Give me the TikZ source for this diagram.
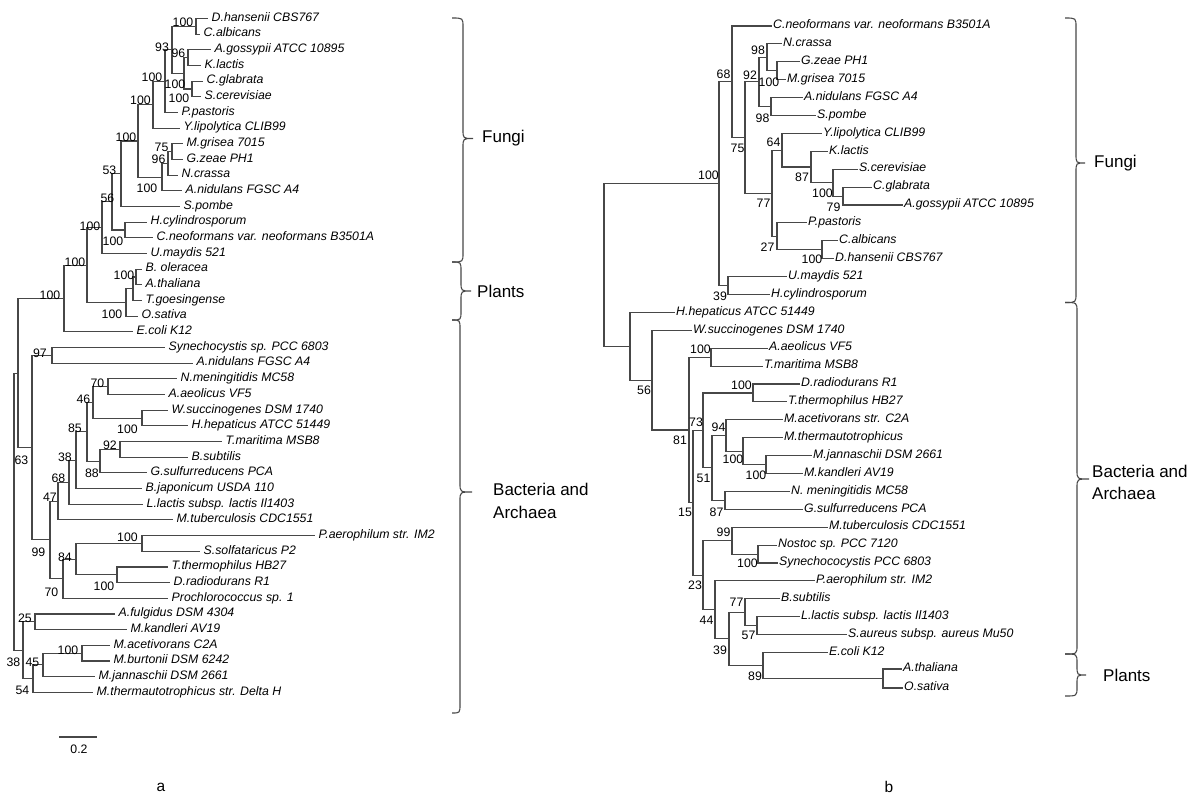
\documentclass[tikz,border=0pt]{standalone}
\usepackage{fontspec}
\setmainfont{Liberation Sans}
\newcommand{\grpbrace}[6]{\draw[brc] (#1,#4) .. controls (#2,#4) .. (#2,{#4+9}) -- (#2,{#5-9}) .. controls (#2,#5) .. (#3,#5) .. controls (#2,#5) .. (#2,{#5+9}) -- (#2,{#6-9}) .. controls (#2,#6) .. (#1,#6);}
\begin{document}
\begin{tikzpicture}[x=1pt,y=-1pt,
  br/.style={line width=1.1pt, draw=black!72},
  brc/.style={line width=1.1pt, draw=black!72},
  lleaf/.style={anchor=west, inner xsep=3.5pt, inner ysep=0pt, text height=7.5pt, text depth=2pt, font=\fontsize{12.3}{14}\selectfont\itshape},
  rleaf/.style={lleaf, inner xsep=1pt},
  bs/.style={inner sep=0pt, font=\fontsize{12.3}{14}\selectfont},
  grp/.style={anchor=west, inner sep=0pt, align=left, font=\fontsize{17}{22.5}\selectfont},
  captxt/.style={inner sep=0pt, font=\fontsize{15.5}{18}\selectfont}]
\useasboundingbox (0,0) rectangle (1200,804);

% ---------------- left tree: leaves
\node[lleaf] (lDh) at (208,18.5) {D.hansenii CBS767};
\node[lleaf] (lCa) at (200,34.2) {C.albicans};
\node[lleaf] (lAg) at (211,49.8) {A.gossypii ATCC 10895};
\node[lleaf] (lKl) at (201,65.5) {K.lactis};
\node[lleaf] (lCg) at (203,81.2) {C.glabrata};
\node[lleaf] (lSc) at (201,96.8) {S.cerevisiae};
\node[lleaf] (lPp) at (178,112.5) {P.pastoris};
\node[lleaf] (lYl) at (180,128.2) {Y.lipolytica CLIB99};
\node[lleaf] (lMg) at (183,143.9) {M.grisea 7015};
\node[lleaf] (lGz) at (183,159.5) {G.zeae PH1};
\node[lleaf] (lNc) at (178,175.2) {N.crassa};
\node[lleaf] (lAn) at (182,190.9) {A.nidulans FGSC A4};
\node[lleaf] (lSp) at (180,206.5) {S.pombe};
\node[lleaf] (lHc) at (147,222.2) {H.cylindrosporum};
\node[lleaf] (lCn) at (153,237.9) {C.neoformans var. neoformans B3501A};
\node[lleaf] (lUm) at (147,253.6) {U.maydis 521};
\node[lleaf] (lBo) at (142,269.2) {B. oleracea};
\node[lleaf] (lAt) at (142,284.9) {A.thaliana};
\node[lleaf] (lTg) at (142,300.6) {T.goesingense};
\node[lleaf] (lOs) at (138,316.2) {O.sativa};
\node[lleaf] (lEc) at (133,331.9) {E.coli K12};
\node[lleaf] (lSy) at (165,347.6) {Synechocystis sp. PCC 6803};
\node[lleaf] (lAnb) at (193,363.2) {A.nidulans FGSC A4};
\node[lleaf] (lNm) at (177,378.9) {N.meningitidis MC58};
\node[lleaf] (lAa) at (165,394.6) {A.aeolicus VF5};
\node[lleaf] (lWs) at (168,410.3) {W.succinogenes DSM 1740};
\node[lleaf] (lHh) at (188,425.9) {H.hepaticus ATCC 51449};
\node[lleaf] (lTm) at (222,441.6) {T.maritima MSB8};
\node[lleaf] (lBs) at (188,457.3) {B.subtilis};
\node[lleaf] (lGs) at (147,472.9) {G.sulfurreducens PCA};
\node[lleaf] (lBj) at (142,488.6) {B.japonicum USDA 110};
\node[lleaf] (lLl) at (143,504.3) {L.lactis subsp. lactis Il1403};
\node[lleaf] (lMt) at (173,519.9) {M.tuberculosis CDC1551};
\node[lleaf] (lPa) at (315,535.6) {P.aerophilum str. IM2};
\node[lleaf] (lSs) at (200,551.3) {S.solfataricus P2};
\node[lleaf] (lTt) at (168,567) {T.thermophilus HB27};
\node[lleaf] (lDr) at (170,582.6) {D.radiodurans R1};
\node[lleaf] (lPr) at (168,598.3) {Prochlorococcus sp. 1};
\node[lleaf] (lAf) at (115,614) {A.fulgidus DSM 4304};
\node[lleaf] (lMk) at (127,629.6) {M.kandleri AV19};
\node[lleaf] (lMa) at (110,645.3) {M.acetivorans C2A};
\node[lleaf] (lMb) at (110,661) {M.burtonii DSM 6242};
\node[lleaf] (lMj) at (95,676.6) {M.jannaschii DSM 2661};
\node[lleaf] (lMtD) at (93,692.3) {M.thermautotrophicus str. Delta H};

% ---------------- left tree: inner nodes
\coordinate (DhCa) at (196,26.35);
\coordinate (AgKl) at (188,57.65);
\coordinate (CgSc) at (192,89);
\coordinate (AKCS) at (184,73.3);
\coordinate (n93) at (172,49.8);
\coordinate (nPp) at (165,81.2);
\coordinate (nYl) at (153,104.7);
\coordinate (n75) at (172,151.7);
\coordinate (n96b) at (168,163.5);
\coordinate (nAn) at (162,177.2);
\coordinate (n138) at (138,141);
\coordinate (n121) at (121,173.8);
\coordinate (nHC) at (125,230);
\coordinate (n112) at (112,201.9);
\coordinate (n102) at (102,227.8);
\coordinate (nBA) at (136,277);
\coordinate (nTg) at (133,288.8);
\coordinate (nOs) at (126,302.5);
\coordinate (n87) at (87,265.2);
\coordinate (n64) at (64,298.5);
\coordinate (nSy) at (52,355.4);
\coordinate (nNm) at (108,386.8);
\coordinate (nWs) at (142,418.1);
\coordinate (n46) at (93,402.4);
\coordinate (nTm) at (120,449.5);
\coordinate (n88) at (100,461.2);
\coordinate (n85) at (87,431.8);
\coordinate (n38) at (76,460.2);
\coordinate (n68) at (69,482.3);
\coordinate (n47) at (58,501.1);
\coordinate (nPa) at (142,543.4);
\coordinate (nTt) at (117,574.8);
\coordinate (n84) at (76,559.1);
\coordinate (n70) at (63,578.7);
\coordinate (n99) at (50,539.9);
\coordinate (n63) at (32,447.7);
\coordinate (n18) at (18,373.1);
\coordinate (nAf) at (35,621.8);
\coordinate (nMa) at (82,653.2);
\coordinate (n45) at (43,664.9);
\coordinate (n54) at (33,678.6);
\coordinate (n23) at (23,650.2);
\coordinate (lroot) at (14,511.7);

\foreach \p/\c in {DhCa/lDh.west, DhCa/lCa.west, AgKl/lAg.west, AgKl/lKl.west,
  CgSc/lCg.west, CgSc/lSc.west, AKCS/AgKl, AKCS/CgSc, n93/DhCa, n93/AKCS,
  nPp/n93, nPp/lPp.west, nYl/nPp, nYl/lYl.west, n75/lMg.west, n75/lGz.west,
  n96b/n75, n96b/lNc.west, nAn/n96b, nAn/lAn.west, n138/nYl, n138/nAn,
  n121/n138, n121/lSp.west, nHC/lHc.west, nHC/lCn.west, n112/n121, n112/nHC,
  n102/n112, n102/lUm.west, nBA/lBo.west, nBA/lAt.west, nTg/nBA, nTg/lTg.west,
  nOs/nTg, nOs/lOs.west, n87/n102, n87/nOs, n64/n87, n64/lEc.west,
  nSy/lSy.west, nSy/lAnb.west, nNm/lNm.west, nNm/lAa.west, nWs/lWs.west, nWs/lHh.west,
  n46/nNm, n46/nWs, nTm/lTm.west, nTm/lBs.west, n88/nTm, n88/lGs.west,
  n85/n46, n85/n88, n38/n85, n38/lBj.west, n68/n38, n68/lLl.west,
  n47/n68, n47/lMt.west, nPa/lPa.west, nPa/lSs.west, nTt/lTt.west, nTt/lDr.west,
  n84/nPa, n84/nTt, n70/n84, n70/lPr.west, n99/n47, n99/n70, n63/nSy, n63/n99,
  n18/n64, n18/n63, nAf/lAf.west, nAf/lMk.west, nMa/lMa.west, nMa/lMb.west,
  n45/nMa, n45/lMj.west, n54/n45, n54/lMtD.west, n23/nAf, n23/n54,
  lroot/n18, lroot/n23}
  \draw[br] (\p) |- (\c);

% ---------------- left tree: bootstrap values
\node[bs] (bl1) at (183,22) {100};
\node[bs] (bl2) at (162,47) {93};
\node[bs] (bl3) at (178.5,53) {96};
\node[bs] (bl4) at (175,84) {100};
\node[bs] (bl5) at (179,98) {100};
\node[bs] (bl6) at (152,77) {100};
\node[bs] (bl7) at (140.5,100) {100};
\node[bs] (bl8) at (161.5,147) {75};
\node[bs] (bl9) at (158.5,159) {96};
\node[bs] (bl10) at (147,188) {100};
\node[bs] (bl11) at (126,137) {100};
\node[bs] (bl12) at (109.5,170) {53};
\node[bs] (bl13) at (113,241) {100};
\node[bs] (bl14) at (107.5,198) {56};
\node[bs] (bl15) at (90,226) {100};
\node[bs] (bl16) at (124,275) {100};
\node[bs] (bl17) at (112,314) {100};
\node[bs] (bl18) at (75,262) {100};
\node[bs] (bl19) at (50,295) {100};
\node[bs] (bl20) at (40,353) {97};
\node[bs] (bl21) at (97.5,383) {70};
\node[bs] (bl22) at (83.5,399) {46};
\node[bs] (bl23) at (127.5,429) {100};
\node[bs] (bl24) at (110,445) {92};
\node[bs] (bl25) at (92,473) {88};
\node[bs] (bl26) at (75,428) {85};
\node[bs] (bl27) at (65,457) {38};
\node[bs] (bl28) at (58.5,478) {68};
\node[bs] (bl29) at (50,497) {47};
\node[bs] (bl30) at (127.5,537) {100};
\node[bs] (bl31) at (104,586) {100};
\node[bs] (bl32) at (65,557) {84};
\node[bs] (bl33) at (51.5,592) {70};
\node[bs] (bl34) at (38.5,552) {99};
\node[bs] (bl35) at (21.5,460) {63};
\node[bs] (bl36) at (25,618) {25};
\node[bs] (bl37) at (68,650) {100};
\node[bs] (bl38) at (32.5,662) {45};
\node[bs] (bl39) at (22.5,690) {54};
\node[bs] (bl40) at (13.5,662) {38};

% scale bar and caption
\coordinate (sb1) at (59,737);
\coordinate (sb2) at (97,737);
\draw[br] (sb1) -- (sb2);
\node[bs] (sbl) at (79,749) {0.2};
\node[captxt] (capa) at (161,787) {a};

% left braces
\grpbrace{452}{463}{473}{18}{138.5}{262}
\grpbrace{452}{461}{471}{262}{291}{320}
\grpbrace{452}{460}{472}{320}{492}{713}
\node[grp] (gfl) at (482,138) {Fungi};
\node[grp] (gpl) at (477,291) {Plants};
\node[grp] (gbl) at (493,501) {Bacteria and\\Archaea};

% ---------------- right tree: leaves
\node[rleaf] (rCn) at (772,26) {C.neoformans var. neoformans B3501A};
\node[rleaf] (rNc) at (782,43.9) {N.crassa};
\node[rleaf] (rGz) at (800,61.8) {G.zeae PH1};
\node[rleaf] (rMg) at (786,79.7) {M.grisea 7015};
\node[rleaf] (rAn) at (803,97.6) {A.nidulans FGSC A4};
\node[rleaf] (rSp) at (816,115.5) {S.pombe};
\node[rleaf] (rYl) at (822,133.4) {Y.lipolytica CLIB99};
\node[rleaf] (rKl) at (828,151.3) {K.lactis};
\node[rleaf] (rSc) at (858,169.2) {S.cerevisiae};
\node[rleaf] (rCg) at (872,187.1) {C.glabrata};
\node[rleaf] (rAg) at (903,205) {A.gossypii ATCC 10895};
\node[rleaf] (rPp) at (807,222.9) {P.pastoris};
\node[rleaf] (rCa) at (838,240.8) {C.albicans};
\node[rleaf] (rDh) at (834,258.7) {D.hansenii CBS767};
\node[rleaf] (rUm) at (787,276.6) {U.maydis 521};
\node[rleaf] (rHc) at (770,294.5) {H.cylindrosporum};
\node[rleaf] (rHh) at (675,312.4) {H.hepaticus ATCC 51449};
\node[rleaf] (rWs) at (692,330.3) {W.succinogenes DSM 1740};
\node[rleaf] (rAa) at (768,348.2) {A.aeolicus VF5};
\node[rleaf] (rTm) at (763,366.1) {T.maritima MSB8};
\node[rleaf] (rDr) at (800,384) {D.radiodurans R1};
\node[rleaf] (rTt) at (787,401.9) {T.thermophilus HB27};
\node[rleaf] (rMa) at (783,419.8) {M.acetivorans str. C2A};
\node[rleaf] (rMt) at (783,437.7) {M.thermautotrophicus};
\node[rleaf] (rMj) at (812,455.6) {M.jannaschii DSM 2661};
\node[rleaf] (rMk) at (803,473.5) {M.kandleri AV19};
\node[rleaf] (rNm) at (790,491.4) {N. meningitidis MC58};
\node[rleaf] (rGs) at (803,509.3) {G.sulfurreducens PCA};
\node[rleaf] (rMtb) at (828,527.2) {M.tuberculosis CDC1551};
\node[rleaf] (rNo) at (777,545.1) {Nostoc sp. PCC 7120};
\node[rleaf] (rSy) at (778,563) {Synechococystis PCC 6803};
\node[rleaf] (rPa) at (815,580.9) {P.aerophilum str. IM2};
\node[rleaf] (rBs) at (780,598.8) {B.subtilis};
\node[rleaf] (rLl) at (800,616.7) {L.lactis subsp. lactis Il1403};
\node[rleaf] (rSa) at (847,634.6) {S.aureus subsp. aureus Mu50};
\node[rleaf] (rEc) at (828,652.5) {E.coli K12};
\node[rleaf] (rAt) at (902,669) {A.thaliana};
\node[rleaf] (rOs) at (903,688) {O.sativa};

% ---------------- right tree: inner nodes
\coordinate (RGM) at (777,70.75);
\coordinate (RNc) at (767,57.3);
\coordinate (RAS) at (771,106.55);
\coordinate (R92) at (759,81.9);
\coordinate (RCA) at (843,196.05);
\coordinate (RSc) at (833,182.6);
\coordinate (RKl) at (811,166.95);
\coordinate (RYl) at (782,150.2);
\coordinate (RCD) at (822,249.75);
\coordinate (RPp) at (777,236.3);
\coordinate (R77) at (772,193.25);
\coordinate (R75) at (745,137.6);
\coordinate (R68) at (732,81.8);
\coordinate (RUH) at (728,285.55);
\coordinate (R100) at (719,183.7);
\coordinate (RAT) at (711,357.15);
\coordinate (RDT) at (753,392.95);
\coordinate (RMK) at (766,464.55);
\coordinate (RMt) at (743,451.1);
\coordinate (RMa) at (726,435.45);
\coordinate (RNG) at (725,500.35);
\coordinate (R51) at (712,467.9);
\coordinate (R73) at (703,430.4);
\coordinate (RNS) at (758,554.05);
\coordinate (R99) at (732,540.6);
\coordinate (RLS) at (757,625.65);
\coordinate (R77b) at (745,612.2);
\coordinate (RAO) at (883,678.5);
\coordinate (R89) at (763,665.5);
\coordinate (R39) at (729,638.85);
\coordinate (R44) at (715,609.9);
\coordinate (R23) at (703,575.25);
\coordinate (R15) at (693,502.8);
\coordinate (R81) at (689,430);
\coordinate (R56) at (652,380.15);
\coordinate (RHh) at (630,346.3);
\coordinate (Rroot) at (604,265);

\foreach \p/\c in {RGM/rGz.west, RGM/rMg.west, RNc/rNc.west, RNc/RGM, RAS/rAn.west, RAS/rSp.west,
  R92/RNc, R92/RAS, RCA/rCg.west, RCA/rAg.west, RSc/rSc.west, RSc/RCA, RKl/rKl.west, RKl/RSc,
  RYl/rYl.west, RYl/RKl, RCD/rCa.west, RCD/rDh.west, RPp/rPp.west, RPp/RCD, R77/RYl, R77/RPp,
  R75/R92, R75/R77, R68/rCn.west, R68/R75, RUH/rUm.west, RUH/rHc.west, R100/R68, R100/RUH,
  RAT/rAa.west, RAT/rTm.west, RDT/rDr.west, RDT/rTt.west, RMK/rMj.west, RMK/rMk.west,
  RMt/rMt.west, RMt/RMK, RMa/rMa.west, RMa/RMt, RNG/rNm.west, RNG/rGs.west, R51/RMa, R51/RNG,
  R73/RDT, R73/R51, RNS/rNo.west, RNS/rSy.west, R99/rMtb.west, R99/RNS, RLS/rLl.west, RLS/rSa.west,
  R77b/rBs.west, R77b/RLS, RAO/rAt.west, RAO/rOs.west, R89/rEc.west, R89/RAO, R39/R77b, R39/R89,
  R44/rPa.west, R44/R39, R23/R99, R23/R44, R15/R73, R15/R23, R81/RAT, R81/R15,
  R56/rWs.west, R56/R81, RHh/rHh.west, RHh/R56, Rroot/R100, Rroot/RHh}
  \draw[br] (\p) |- (\c);

% ---------------- right tree: bootstrap values
\node[bs] (br1) at (769,82) {100};
\node[bs] (br2) at (758,50) {98};
\node[bs] (br3) at (762.5,118) {98};
\node[bs] (br4) at (750,75) {92};
\node[bs] (br5) at (833.5,207) {79};
\node[bs] (br6) at (822.5,193) {100};
\node[bs] (br7) at (802,177) {87};
\node[bs] (br8) at (773.5,142) {64};
\node[bs] (br9) at (812,259) {100};
\node[bs] (br10) at (767.5,247) {27};
\node[bs] (br11) at (763.5,203) {77};
\node[bs] (br12) at (737.5,148) {75};
\node[bs] (br13) at (723.5,74) {68};
\node[bs] (br14) at (720,296) {39};
\node[bs] (br15) at (708.5,175) {100};
\node[bs] (br16) at (700.5,349) {100};
\node[bs] (br17) at (741.5,385) {100};
\node[bs] (br18) at (756,475) {100};
\node[bs] (br19) at (733,459) {100};
\node[bs] (br20) at (718.5,427) {94};
\node[bs] (br21) at (716.5,512) {87};
\node[bs] (br22) at (703.5,478) {51};
\node[bs] (br23) at (696,422) {73};
\node[bs] (br24) at (747.5,563) {100};
\node[bs] (br25) at (723.5,532) {99};
\node[bs] (br26) at (748.5,635) {57};
\node[bs] (br27) at (736.5,602) {77};
\node[bs] (br28) at (755,676) {89};
\node[bs] (br29) at (720,650) {39};
\node[bs] (br30) at (706.5,620) {44};
\node[bs] (br31) at (695,585) {23};
\node[bs] (br32) at (685,512) {15};
\node[bs] (br33) at (680,440) {81};
\node[bs] (br34) at (644,390) {56};

\node[captxt] (capb) at (889,787) {b};

% right braces
\grpbrace{1065}{1076}{1085}{18}{163}{302.5}
\grpbrace{1065}{1077}{1089}{302.5}{479}{654}
\grpbrace{1065}{1077}{1086}{654}{675}{696}
\node[grp] (gfr) at (1094,163) {Fungi};
\node[grp] (gbr) at (1092,482.5) {Bacteria and\\Archaea};
\node[grp] (gpr) at (1103,675) {Plants};
\end{tikzpicture}
\end{document}
